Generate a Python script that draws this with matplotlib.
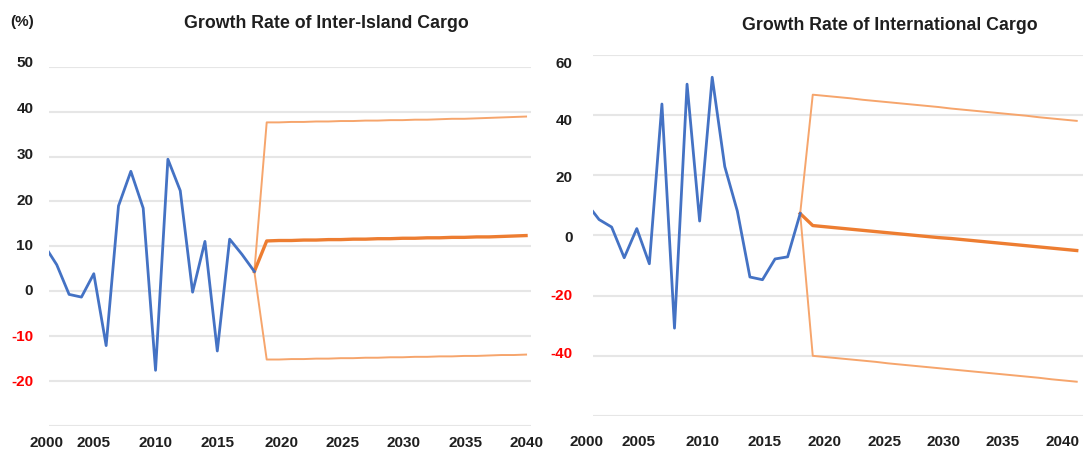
import matplotlib
matplotlib.use("Agg")
import matplotlib.pyplot as plt
from matplotlib.transforms import ScaledTranslation

plt.rcParams['font.family'] = ['Liberation Sans', 'DejaVu Sans']
TICK_SIZE, TITLE_SIZE = 11, 12.8

# historical growth rates (%), 2001-2018
hist_years = list(range(2001, 2019))
inter_island_hist = [10.2, 5.9, -0.7, -1.3, 3.9, -12.1, 19.0, 26.7, 18.5, -17.6,
                     29.4, 22.4, -0.2, 11.1, -13.3, 11.6, 8.2, 4.4]
international_hist = [10.7, 5.3, 2.8, -7.4, 2.3, -9.4, 43.7, -30.8, 50.3, 4.8,
                      52.6, 22.9, 8.1, -13.8, -14.7, -7.8, -7.1, 7.3]

# projections 2019-2040 (high / base / low scenarios)
proj_years = list(range(2019, 2041))
inter_island_high = [37.6, 37.6, 37.7, 37.7, 37.8, 37.8, 37.9, 37.9, 38.0, 38.0, 38.1,
                     38.1, 38.2, 38.2, 38.3, 38.4, 38.4, 38.5, 38.6, 38.7, 38.8, 38.9]
inter_island_base = [11.2, 11.3, 11.3, 11.4, 11.4, 11.5, 11.5, 11.6, 11.6, 11.7, 11.7,
                     11.8, 11.8, 11.9, 11.9, 12.0, 12.0, 12.1, 12.1, 12.2, 12.3, 12.4]
inter_island_low = [-15.2, -15.2, -15.1, -15.1, -15.0, -15.0, -14.9, -14.9, -14.8, -14.8, -14.7,
                    -14.7, -14.6, -14.6, -14.5, -14.5, -14.4, -14.4, -14.3, -14.2, -14.2, -14.1]
international_high = [46.8, 46.4, 46.0, 45.6, 45.1, 44.7, 44.3, 43.9, 43.5, 43.1, 42.7,
                      42.2, 41.8, 41.4, 41.0, 40.6, 40.2, 39.8, 39.3, 38.9, 38.5, 38.1]
international_base = [3.3, 2.9, 2.5, 2.1, 1.7, 1.3, 0.9, 0.5, 0.1, -0.3, -0.7,
                      -1.0, -1.4, -1.8, -2.2, -2.6, -3.0, -3.4, -3.8, -4.2, -4.6, -5.0]
international_low = [-40.0, -40.4, -40.8, -41.2, -41.6, -42.0, -42.5, -42.9, -43.3, -43.7, -44.1,
                     -44.5, -44.9, -45.3, -45.7, -46.1, -46.5, -46.9, -47.3, -47.8, -48.2, -48.6]

x_tick_labels = ['2000', '2005', '2010', '2015', '2020', '2025', '2030', '2035', '2040']
left_yticks = [-30, -20, -10, 0, 10, 20, 30, 40, 50]
right_yticks = [-60, -40, -20, 0, 20, 40, 60]

# label placement quirks of the original (the labels don't sit exactly on the grid)
left_label_pos = [None, 2005, 2010, 2015, 2020.2, 2025.1, 2030.1, 2035.1, 2040.0]
right_label_pos = [None, 2005.1, 2010.2, 2015.2, 2019.9, 2024.7, 2029.4, 2034.1, 2038.9]
left_label_shift = [0, 0.7, 1, 1.7, 1.7, 2, 2.7, 4.4, 5]      # px, upwards
right_label_shift = [0, 3, 1, -0.7, -0.7, -4, -8]

BLUE = '#4472C4'
ORANGE = '#ED7D31'
LIGHT_ORANGE = '#F6A56C'
TEXT = '#1f1f1f'
RED = '#FF0000'


def draw_panel(fig, ax, hist, high, base, low, yticks, xlim, label_pos, shifts,
               first_dx, ypad, xpad):
    last_year, last_val = hist_years[-1], hist[-1]
    px = [last_year] + proj_years
    ax.plot(px, [last_val] + high, color=LIGHT_ORANGE, lw=1.4, zorder=3)
    ax.plot(px, [last_val] + low, color=LIGHT_ORANGE, lw=1.4, zorder=3)
    ax.plot(px, [last_val] + base, color=ORANGE, lw=2.4, zorder=4)
    ax.plot(hist_years, hist, color=BLUE, lw=2.0, zorder=5)

    ax.set_xticks([xlim[0]] + label_pos[1:])
    ax.set_xticklabels(x_tick_labels)
    ax.set_yticks(yticks)
    ax.set_yticklabels(['' if v == yticks[0] else str(v) for v in yticks])
    ax.set_xlim(*xlim)
    ax.set_ylim(yticks[0], yticks[-1])

    ax.grid(axis='y', color='#e6e6e6', lw=1.5, zorder=0)
    ax.tick_params(axis='both', length=0)
    ax.tick_params(axis='y', pad=ypad)
    ax.tick_params(axis='x', pad=xpad)
    for s in ax.spines.values():
        s.set_visible(False)

    # nudge labels after tick_params, which would reset the transforms
    for lab, v, dy in zip(ax.get_yticklabels(), yticks, shifts):
        lab.set_color(RED if v < 0 else TEXT)
        lab.set_transform(lab.get_transform() +
                          ScaledTranslation(0, dy / 100, fig.dpi_scale_trans))
    xlabs = ax.get_xticklabels()
    xlabs[0].set_transform(xlabs[0].get_transform() +
                           ScaledTranslation(-first_dx / 100, 0, fig.dpi_scale_trans))
    for lab in xlabs + ax.get_yticklabels():
        lab.set_fontweight('bold')
        lab.set_fontsize(TICK_SIZE)
    for lab in xlabs:
        lab.set_color(TEXT)


fig = plt.figure(figsize=(10.89, 4.54), dpi=100)
ax1 = fig.add_axes([0.0453, 0.0617, 0.4423, 0.7914])
ax2 = fig.add_axes([0.5448, 0.0837, 0.4497, 0.7952])

draw_panel(fig, ax1, inter_island_hist, inter_island_high, inter_island_base, inter_island_low,
           left_yticks, (2001.4, 2040.4), left_label_pos, left_label_shift, 2.5, 11.5, 7)
draw_panel(fig, ax2, international_hist, international_high, international_base, international_low,
           right_yticks, (2001.54, 2040.5), right_label_pos, right_label_shift, 7, 15, 14)

fig.text(326 / 1089, 1 - 23 / 454, 'Growth Rate of Inter-Island Cargo', ha='center', va='center',
         fontsize=TITLE_SIZE, fontweight='bold', color=TEXT)
fig.text(890 / 1089, 1 - 25 / 454, 'Growth Rate of International Cargo', ha='center', va='center',
         fontsize=TITLE_SIZE, fontweight='bold', color=TEXT)
fig.text(22 / 1089, 1 - 22 / 454, '(%)', ha='center', va='center',
         fontsize=TICK_SIZE, fontweight='bold', color=TEXT)

fig.savefig('out.png', dpi=100)
